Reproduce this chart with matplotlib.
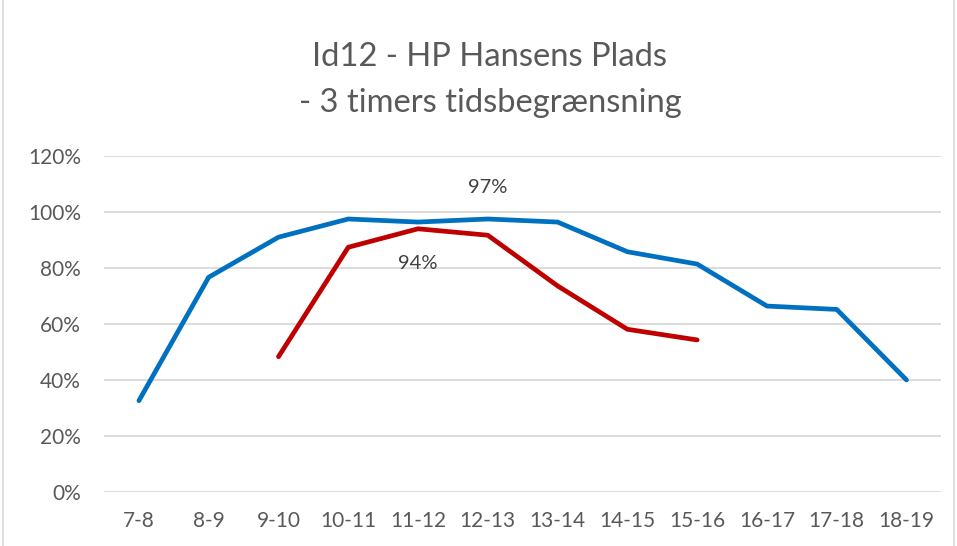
import matplotlib.pyplot as plt
from matplotlib.patches import Rectangle
from matplotlib.ticker import PercentFormatter

# ---------------------------------------------------
# Daten
# ---------------------------------------------------
hours = ["7-8", "8-9", "9-10", "10-11", "11-12", "12-13",
         "13-14", "14-15", "15-16", "16-17", "17-18", "18-19"]

blue_vals = [32.5, 76.6, 90.9, 97.4, 96.3, 97.4,
             96.3, 85.7, 81.3, 66.3, 65.1, 39.9]

red_hours = ["9-10", "10-11", "11-12", "12-13", "13-14", "14-15", "15-16"]
red_vals = [48.2, 87.3, 93.9, 91.6, 73.5, 58.0, 54.2]

title_lines = ["Id12 - HP Hansens Plads", "- 3 timers tidsbegrænsning"]
y_ticks = [0, 20, 40, 60, 80, 100, 120]

# ---------------------------------------------------
# Diagramm
# ---------------------------------------------------
plt.rcParams['font.family'] = ['Lato', 'DejaVu Sans']
text_col = "#595959"

fig = plt.figure(figsize=(9.57, 5.46), dpi=100)
ax = fig.add_axes([0.1087, 0.0995, 0.875, 0.6153])

x_blue = [hours.index(h) for h in hours]
x_red = [hours.index(h) for h in red_hours]

ax.plot(x_blue, blue_vals, color="#0070C0", linewidth=3.4,
        solid_capstyle="round", solid_joinstyle="round", zorder=3)
ax.plot(x_red, red_vals, color="#C00000", linewidth=3.4,
        solid_capstyle="round", solid_joinstyle="round", zorder=3)

# Datenbeschriftungen
i_b = hours.index("12-13")
ax.annotate(f"{blue_vals[i_b]:.0f}%", (x_blue[i_b], blue_vals[i_b]),
            xytext=(0, 23), textcoords="offset points",
            ha="center", va="center", fontsize=14.5, color="#404040")
i_r = red_hours.index("11-12")
ax.annotate(f"{red_vals[i_r]:.0f}%", (x_red[i_r], red_vals[i_r]),
            xytext=(0, -25), textcoords="offset points",
            ha="center", va="center", fontsize=14.5, color="#404040")

ax.set_xlim(-0.5, len(hours) - 0.5)
ax.set_ylim(0, 120)
ax.set_xticks(range(len(hours)))
ax.set_xticklabels(hours)
ax.set_yticks(y_ticks)
ax.yaxis.set_major_formatter(PercentFormatter(decimals=0))
ax.grid(axis="y", color="#d9d9d9", linewidth=1.3)
ax.set_axisbelow(True)
for s in ax.spines.values():
    s.set_visible(False)
ax.tick_params(length=0, labelsize=15, colors=text_col)
ax.tick_params(axis="x", pad=14)
ax.tick_params(axis="y", pad=16.5)

fig.text(0.512, 0.8956, title_lines[0], ha="center", va="center",
         fontsize=23.6, color=text_col)
fig.text(0.512, 0.811, title_lines[1], ha="center", va="center",
         fontsize=23.6, color=text_col)

# Rahmen
fig.patches.append(Rectangle((0.003, -0.01), 0.994, 1.02, transform=fig.transFigure,
                             fill=False, edgecolor="#d9d9d9", linewidth=1.2))

fig.savefig("out.png", dpi=100)
